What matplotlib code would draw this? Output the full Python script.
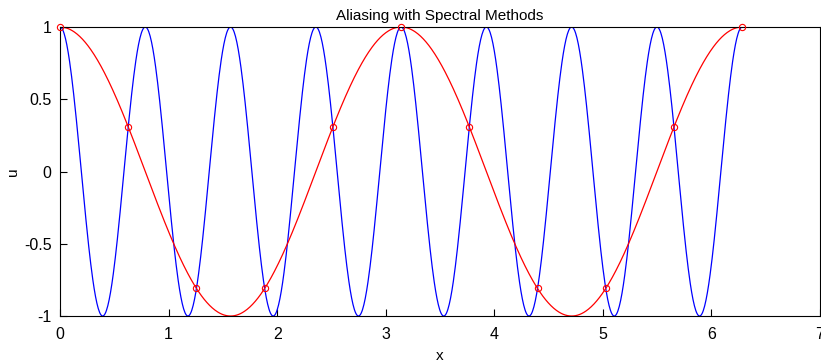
"""
Aliasing demo: a high-wavenumber cosine and its low-wavenumber alias
agree at every grid point of a coarse grid on [0, 2*pi].
"""
import numpy as np
import matplotlib
matplotlib.use("Agg")
import matplotlib.pyplot as plt

# wavenumbers of the two modes and the number of grid intervals
k_high = 8
k_alias = 2
n_grid = 10

# values of both modes at the grid points x_j = 2*pi*j/10
grid_values = [1.0, 0.309, -0.809, -0.809, 0.309, 1.0, 0.309, -0.809, -0.809, 0.309, 1.0]

x_ticks = [0, 1, 2, 3, 4, 5, 6, 7]
y_ticks = [-1, -0.5, 0, 0.5, 1]
y_tick_labels = ["-1", "-0.5", "0", "0.5", "1"]

plt.rcParams["font.family"] = ["Liberation Sans", "DejaVu Sans"]

x_fine = np.linspace(0, 2 * np.pi, 1000)
x_grid = np.linspace(0, 2 * np.pi, n_grid + 1)

fig = plt.figure(figsize=(8.21, 3.62), dpi=100)
ax = fig.add_axes([0.0731, 0.127, 0.9257, 0.7984])

ax.plot(x_fine, np.cos(k_high * x_fine), color="#0000ff", lw=0.9)
ax.plot(x_fine, np.cos(k_alias * x_fine), color="#ff0000", lw=0.9)
ax.plot(x_grid, grid_values, "o", mfc="none", mec="#ff0000", ms=4.5, mew=0.8,
        clip_on=False, zorder=3)

ax.set_xlim(0, 7)
ax.set_ylim(-1, 1)
ax.set_xticks(x_ticks)
ax.set_yticks(y_ticks)
ax.set_yticklabels(y_tick_labels)
ax.tick_params(direction="in", length=5, labelsize=11.5)
ax.tick_params(axis="x", pad=8)
ax.tick_params(axis="y", pad=6)
for side in ax.spines.values():
    side.set_linewidth(0.8)

ax.set_title("Aliasing with Spectral Methods", fontsize=11, pad=5)
ax.set_xlabel("x", fontsize=11, labelpad=5)
ax.set_ylabel("u", fontsize=11, labelpad=3)

fig.savefig("out.png", dpi=100)
